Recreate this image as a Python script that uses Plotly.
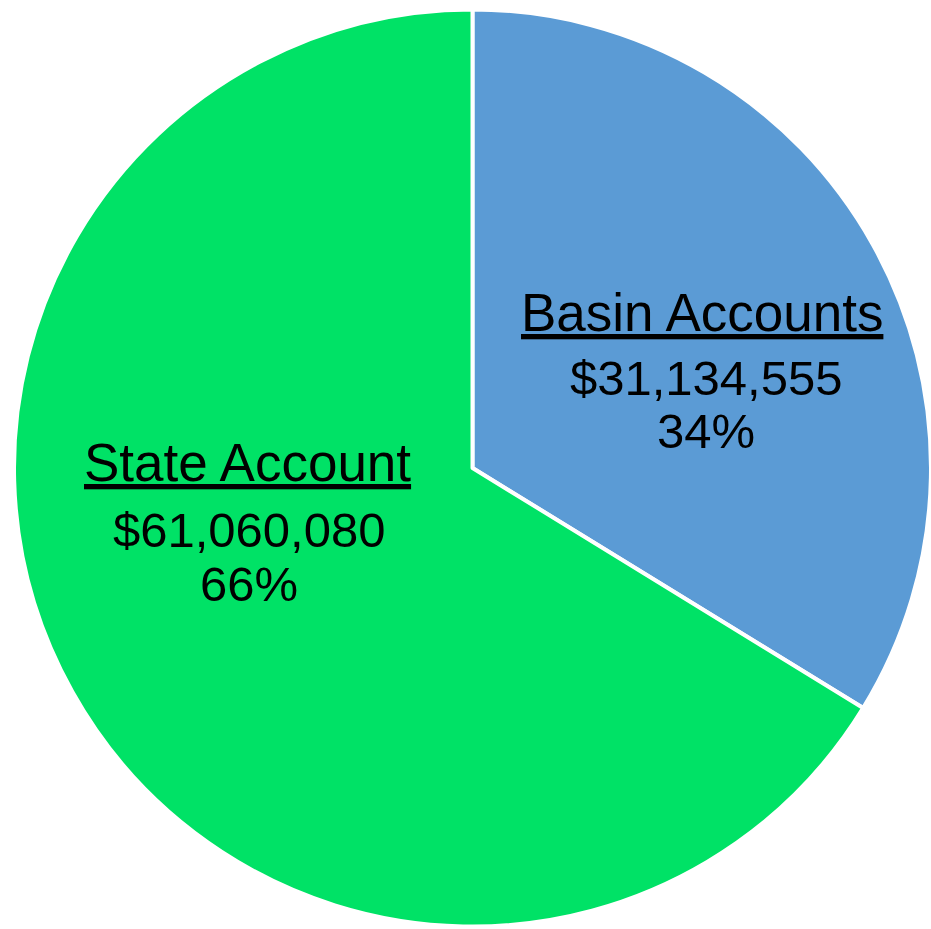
import plotly.graph_objects as go

labels = ["Basin Accounts", "State Account"]
values = [31134555, 61060080]
colors = ["#5B9BD5", "#00E266"]

total = sum(values)
pcts = [round(v / total * 100) for v in values]

fig = go.Figure(go.Pie(
    labels=labels,
    values=values,
    sort=False,
    direction="clockwise",
    rotation=0,
    marker=dict(colors=colors, line=dict(color="white", width=4)),
    textinfo="none",
    hoverinfo="none",
    showlegend=False,
    domain=dict(x=[14/931, 1], y=[0, 1 - 7/929]),
))

# label positions (paper coords) for each slice: (title x, other x), [title y, value y, pct y]
label_pos = [
    ((702/931, 706/931), [312, 378, 431]),
    ((247/931, 249/931), [462, 530, 584]),
]
title_font = dict(family="Liberation Sans, Arial", size=53, color="black")
font = dict(family="Liberation Sans, Arial", size=49, color="black")
annotations = []
for ((xt, xo), ys), lab, v, p in zip(label_pos, labels, values, pcts):
    lines = [f"<u>{lab}</u>", f"${v:,}", f"{p}%"]
    for i, (line, yy) in enumerate(zip(lines, ys)):
        annotations.append(dict(
            x=xt if i == 0 else xo, y=1 - yy/929, xref="paper", yref="paper",
            text=line, showarrow=False,
            font=title_font if i == 0 else font,
            xanchor="center", yanchor="middle",
        ))

fig.update_layout(
    width=931, height=929,
    margin=dict(l=0, r=0, t=0, b=0),
    paper_bgcolor="white",
    plot_bgcolor="white",
    annotations=annotations,
)
fig.write_html("out.html", config={"displayModeBar": False},
               post_script="document.body.style.margin='0';document.body.style.overflow='hidden';")
